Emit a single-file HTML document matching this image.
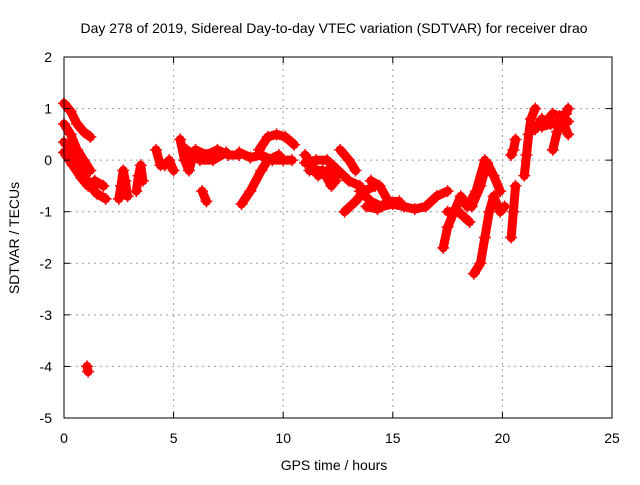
<!DOCTYPE html>
<html><head><meta charset="utf-8"><style>
body{margin:0;background:#fff;}
svg text{font-family:"Liberation Sans",sans-serif;font-size:14px;fill:#000;}
</style></head><body>
<svg width="640" height="480">
<rect width="640" height="480" fill="#fff"/>
<text x="334" y="33" text-anchor="middle">Day 278 of 2019, Sidereal Day-to-day VTEC variation (SDTVAR) for receiver drao</text>
<g id="grid"></g>
<g id="marks"></g>
<rect x="64" y="57" width="548" height="361" fill="none" stroke="#000"/>
<g id="ticks"></g>
<text x="334" y="470" text-anchor="middle">GPS time / hours</text>
<text transform="translate(19,238) rotate(-90)" text-anchor="middle">SDTVAR / TECUs</text>
</svg>
<script>
const xTicks=[0,5,10,15,20,25];
const yTicks=[2,1,0,-1,-2,-3,-4,-5];
const tracks=[
[[0,1.1],[0.3,0.95],[0.6,0.7],[0.9,0.55],[1.2,0.45]],
[[0,0.7],[0.3,0.5],[0.6,0.2],[0.9,0],[1.2,-0.2]],
[[0,0.35],[0.3,0.2],[0.6,-0.1],[0.9,-0.3],[1.2,-0.5],[1.5,-0.65],[1.9,-0.75]],
[[0,0.15],[0.4,-0.1],[0.8,-0.35],[1.1,-0.5],[1.4,-0.4],[1.8,-0.5]],
[[2.5,-0.75],[2.6,-0.5],[2.7,-0.2],[2.8,-0.4],[2.9,-0.7]],
[[3.3,-0.6],[3.4,-0.3],[3.5,-0.1],[3.6,-0.4]],
[[4.2,0.2],[4.4,-0.1],[4.6,-0.1],[4.8,0],[5.0,-0.2]],
[[5.3,0.4],[5.5,0],[5.7,-0.2],[5.9,0.1]],
[[6.0,0.2],[6.5,0.1],[7,0.2],[7.5,0.1],[8,0.1]],
[[5.6,0.2],[6.2,0.0],[6.8,0.0],[7.4,0.15]],
[[6.3,-0.6],[6.5,-0.8]],
[[8.1,-0.85],[8.5,-0.6],[9,-0.2],[9.3,0],[9.8,0.1]],
[[8,0.15],[8.5,0.05],[9,0.1],[9.5,0.0],[10,0],[10.4,0]],
[[8.9,0.2],[9.3,0.45],[9.7,0.5],[10.1,0.45],[10.5,0.3]],
[[11,0.1],[11.3,-0.1],[11.6,-0.3],[12,-0.2],[12.4,-0.4]],
[[11,-0.05],[11.5,0.0],[12,0],[12.5,-0.2],[13,-0.4],[13.5,-0.5]],
[[11.2,-0.2],[11.8,-0.2],[12.2,-0.5]],
[[12.6,0.2],[13.0,0],[13.3,-0.2]],
[[12.8,-1],[13.3,-0.8],[13.7,-0.6],[14.2,-0.5]],
[[13.5,-0.6],[14,-0.8],[14.5,-0.9],[15,-0.85],[15.5,-0.9],[16,-0.95],[16.5,-0.9],[17,-0.7],[17.5,-0.6]],
[[13.8,-0.9],[14.3,-0.95],[14.8,-0.8],[15.3,-0.8]],
[[14,-0.4],[14.4,-0.5],[14.8,-0.8]],
[[17.3,-1.7],[17.5,-1.3],[17.8,-1.0],[18.1,-0.7],[18.4,-0.9],[18.8,-0.6],[19.2,0]],
[[18.7,-2.2],[19,-2.0],[19.2,-1.5],[19.4,-1.0],[19.6,-0.7],[19.9,-1.0],[20.1,-0.9]],
[[18.6,-0.9],[19,-0.5],[19.3,-0.05],[19.6,-0.3],[19.9,-0.6]],
[[17.5,-1.0],[18,-1.0],[18.5,-1.2]],
[[20.4,-1.5],[20.5,-1.0],[20.6,-0.5]],
[[20.4,0.1],[20.5,0.2],[20.6,0.4]],
[[21,-0.3],[21.1,0.1],[21.2,0.5],[21.3,0.8],[21.5,1.0]],
[[21.5,0.6],[21.8,0.8],[22,0.75],[22.3,0.9],[22.6,0.85],[22.9,0.9],[23,1.0]],
[[21.8,0.65],[22.2,0.7],[22.6,0.7],[23,0.75]],
[[22.3,0.2],[22.5,0.55],[22.8,0.7],[23,0.5]],
[[1.05,-4.0],[1.1,-4.1]]
];
const NS="http://www.w3.org/2000/svg";
const X=h=>64+h*548/25, Y=v=>57+(2-v)*361/7;
const grid=document.getElementById('grid'),ticks=document.getElementById('ticks'),marks=document.getElementById('marks');
function mk(tag,attrs,parent){const e=document.createElementNS(NS,tag);for(const k in attrs)e.setAttribute(k,attrs[k]);parent.appendChild(e);return e;}
xTicks.forEach(t=>{
 const l=mk('line',{x1:X(t),x2:X(t),y1:57,y2:418,stroke:'#a0a0a0','stroke-dasharray':'2,4'},grid);
 
 
 mk('line',{x1:X(t),x2:X(t),y1:418,y2:412,stroke:'#000'},ticks);
 mk('line',{x1:X(t),x2:X(t),y1:57,y2:63,stroke:'#000'},ticks);
 const tx=mk('text',{x:X(t),y:443,'text-anchor':'middle'},ticks);tx.textContent=t;
 
 
});
yTicks.forEach(t=>{
 const l=mk('line',{x1:64,x2:612,y1:Y(t),y2:Y(t),stroke:'#a0a0a0','stroke-dasharray':'2,4'},grid);
 
 
 mk('line',{x1:64,x2:70,y1:Y(t),y2:Y(t),stroke:'#000'},ticks);
 mk('line',{x1:606,x2:612,y1:Y(t),y2:Y(t),stroke:'#000'},ticks);
 const tx=mk('text',{x:52,y:Y(t)+5,'text-anchor':'end'},ticks);tx.textContent=t;
 
 
});
tracks.forEach(tr=>{
 const p=mk('polyline',{points:tr.map(d=>X(d[0])+','+Y(d[1])).join(' '),fill:'none',stroke:'#ff0000','stroke-width':9,'stroke-linejoin':'round','stroke-linecap':'round'},marks);
 
 
 tr.forEach(d=>{
  const x=X(d[0]),y=Y(d[1]);
  const m=mk('path',{d:`M${x-6},${y}h12M${x},${y-6}v12`,stroke:'#ff0000','stroke-width':1.5},marks);
  
  
 });
});
</script>
</body></html>
